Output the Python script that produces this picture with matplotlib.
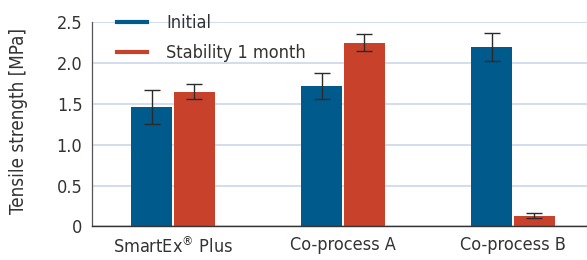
#!/usr/bin/env python3

import matplotlib
matplotlib.use("Agg")
import matplotlib.pyplot as plt
from matplotlib.lines import Line2D
import numpy as np

# Data
categories = ["SmartEx$^{®}$ Plus", "Co-process A", "Co-process B"]
initial = [1.46, 1.72, 2.20]
initial_err = [0.21, 0.16, 0.17]
stability = [1.65, 2.25, 0.13]
stability_err = [0.09, 0.10, 0.03]
yticks = [0, 0.5, 1.0, 1.5, 2.0, 2.5]
ytick_labels = ["0", "0.5", "1.0", "1.5", "2.0", "2.5"]

blue = "#005a8c"
red = "#c8412b"
text_color = "#333333"

plt.rcParams["font.family"] = ["DejaVu Sans"]
plt.rcParams["font.stretch"] = "condensed"
plt.rcParams["mathtext.default"] = "regular"
plt.rcParams["text.color"] = text_color

fig = plt.figure(figsize=(5.87, 2.60), dpi=100)
ax = fig.add_axes([0.157, 0.129, 0.843, 0.786])

x = np.arange(len(categories))
width = 0.24
gap = 0.006

ax.bar(x - width / 2 - gap, initial, width, color=blue, zorder=2)
ax.bar(x + width / 2 + gap, stability, width, color=red, zorder=2)
ax.errorbar(x - width / 2 - gap, initial, yerr=initial_err, fmt="none",
            ecolor="#2b2b2b", elinewidth=1, capsize=5.5, capthick=1, zorder=3)
ax.errorbar(x + width / 2 + gap, stability, yerr=stability_err, fmt="none",
            ecolor="#2b2b2b", elinewidth=1, capsize=5.5, capthick=1, zorder=3)

ax.set_xlim(-0.476, 2.435)
ax.set_ylim(0, 2.5)
ax.set_yticks(yticks)
ax.set_yticklabels(ytick_labels)
ax.set_xticks(x)
ax.set_xticklabels(categories)
ax.tick_params(axis="both", length=0, colors=text_color, labelsize=13)
ax.tick_params(axis="y", pad=7)
ax.tick_params(axis="x", pad=7)

ax.yaxis.grid(True, color="#c9d7ea", linewidth=1.2, zorder=0)
ax.set_axisbelow(True)
for side in ["top", "right"]:
    ax.spines[side].set_visible(False)
ax.spines["left"].set_color("#555555")
ax.spines["bottom"].set_color("#333333")
ax.spines["left"].set_linewidth(0.9)
ax.spines["bottom"].set_linewidth(1.0)

fig.text(19 / 587, 0.535, "Tensile strength [MPa]", rotation=90,
         ha="center", va="center", fontsize=13.5, color=text_color)

handles = [Line2D([], [], color=blue, linewidth=3),
           Line2D([], [], color=red, linewidth=3)]
ax.legend(handles, ["Initial", "Stability 1 month"], loc="upper left",
          bbox_to_anchor=(117 / 587, 1 - 14 / 260), bbox_transform=fig.transFigure,
          frameon=False, fontsize=13, handlelength=1.67, handletextpad=1.05,
          labelspacing=0.67, borderaxespad=0, borderpad=0)

fig.savefig("out.png", dpi=100)
